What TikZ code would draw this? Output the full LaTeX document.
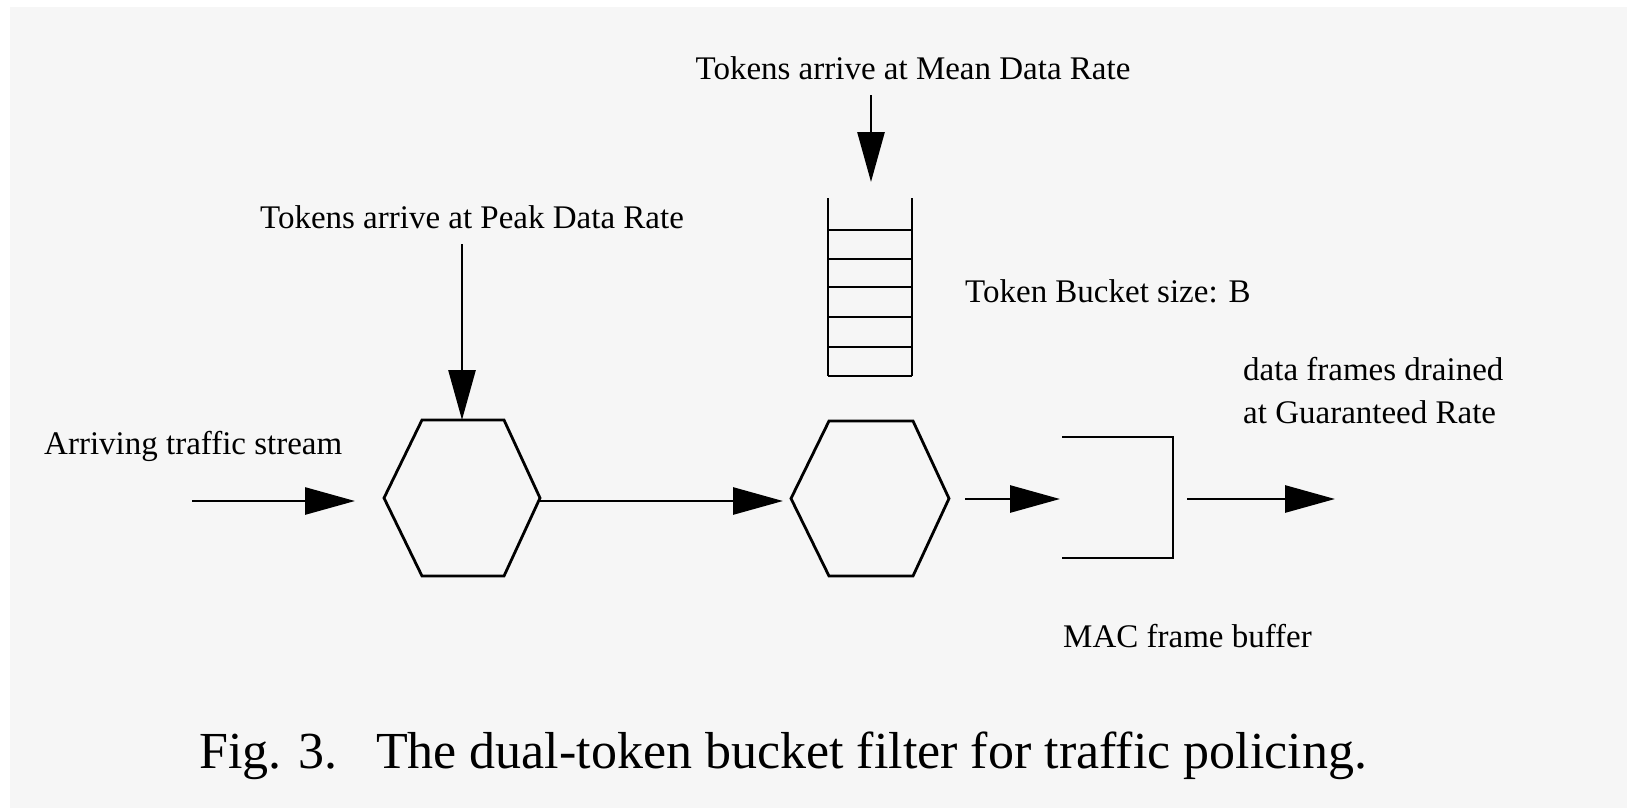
\documentclass[tikz,border=0pt]{standalone}
\usepackage{fontspec}
\setmainfont{Liberation Serif}
\usetikzlibrary{arrows.meta,calc}
\definecolor{bggray}{HTML}{F6F6F6}
\tikzset{
  ln/.style={line width=2.8pt, black},
  arr/.style={ln, -{Triangle[length=50pt,width=27pt]}},
  box/.style={inner sep=0pt, outer sep=0pt, draw=none},
  lbl/.style={inner sep=0pt, font=\fontsize{33}{43}\selectfont},
  figcap/.style={inner sep=0pt, font=\fontsize{52}{60}\selectfont},
}
\begin{document}
\begin{tikzpicture}[x=1pt,y=-1pt]
\useasboundingbox (0,0) rectangle (1627,808);
\fill[white] (0,0) rectangle (1627,808);
\fill[bggray] (10,7) rectangle (1627,808);

% hexagons (bounding boxes)
\node[box, minimum width=156pt, minimum height=156pt] (h1) at (462,498) {};
\node[box, minimum width=158pt, minimum height=155pt] (h2) at (870,498.5) {};
\foreach \h in {h1,h2}{
  \draw[ln, line join=miter] (\h.west) -- ([xshift=38pt]\h.north west) -- ([xshift=-36pt]\h.north east)
    -- (\h.east) -- ([xshift=-36pt]\h.south east) -- ([xshift=38pt]\h.south west) -- cycle;
}

% token bucket
\node[box, minimum width=84pt, minimum height=178pt] (bk) at (870,287) {};
\draw[ln] (bk.north west) -- (bk.south west);
\draw[ln] (bk.north east) -- (bk.south east);
\foreach \yy in {230,259,287,317,347,376}{
  \draw[ln] (bk.west |- 0,\yy) -- (bk.east |- 0,\yy);
}

% MAC frame buffer (open on the left)
\node[box, minimum width=111pt, minimum height=121pt] (buf) at (1117.5,497.5) {};
\draw[ln, line join=miter] (buf.north west) -- (buf.north east) -- (buf.south east) -- (buf.south west);

% labels
\node[lbl, anchor=base] (lmean) at (913,80) {Tokens arrive at Mean Data Rate};
\node[lbl, anchor=base] (lpeak) at (472,228) {Tokens arrive at Peak Data Rate};
\node[lbl, anchor=base west] (lsize) at (965,302) {Token Bucket size: B};
\node[lbl, anchor=base west] (larr) at (44,454) {Arriving traffic stream};
\node[lbl, anchor=base west, align=left] (lout) at (1243,423) {data frames drained\\at Guaranteed Rate};
\node[lbl, anchor=base west] (lmac) at (1063,647) {MAC frame buffer};
\node[figcap, anchor=base west] (caption) at (199,768) {Fig. 3.\hspace{0.4em} The dual-token bucket filter for traffic policing.};

% connectors
\coordinate (inStart) at (192,501);
\coordinate (peakStart) at (462,244);
\coordinate (meanStart) at (871,95);
\coordinate (outEnd) at (1335,499);
\draw[arr, shorten >=29pt] (inStart) -- (inStart -| h1.west);
\draw[arr] (peakStart) -- (h1.north);
\draw[arr, shorten >=16pt] (meanStart) -- (meanStart |- bk.north);
\draw[arr, shorten >=8pt] (h1.east |- 0,501) -- (h2.west |- 0,501);
\draw[arr, shorten <=16pt, shorten >=2pt] (h2.east |- 0,499) -- (buf.west |- 0,499);
\draw[arr, shorten <=14pt] (buf.east |- outEnd) -- (outEnd);
\end{tikzpicture}
\end{document}
